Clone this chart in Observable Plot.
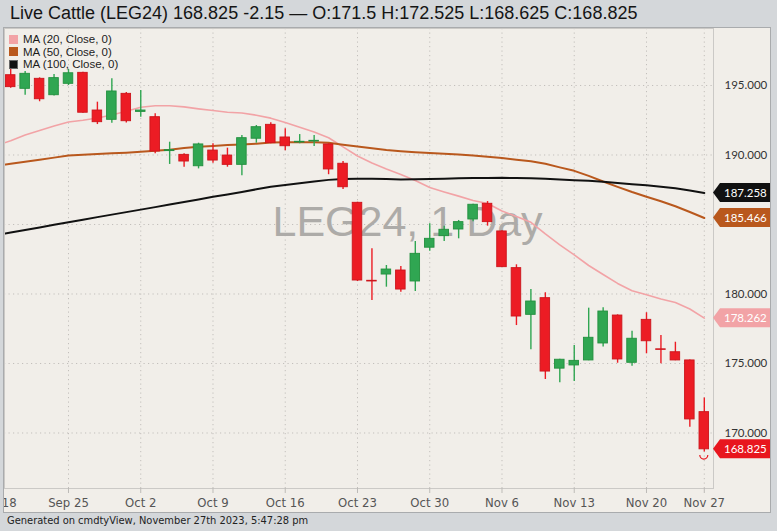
<!DOCTYPE html>
<html>
<head>
<meta charset="utf-8">
<script src="https://cdn.jsdelivr.net/npm/d3@7"></script>
<script src="https://cdn.jsdelivr.net/npm/@observablehq/plot@0.6"></script>
<style>
  html, body { margin: 0; padding: 0; }
  body { width: 777px; height: 531px; overflow: hidden; background: #d4d7da; position: relative;
         font-family: "Liberation Sans", Arial, sans-serif; }
  #title { position: absolute; left: 10px; top: 3px; font-size: 18px; line-height: 20px; color: #151515; white-space: nowrap; }
  #panel { position: absolute; left: 3px; top: 27px; width: 768px; height: 486px; box-sizing: border-box;
           border: 1px solid #a9abad; background: #f1eee9; overflow: hidden; }
  #legend { position: absolute; left: 5px; top: 5px; font-size: 11.5px; line-height: 12.5px; color: #1c1c1c; }
  #legend div { display: flex; align-items: center; height: 12.5px; white-space: nowrap; }
  #legend span.sw { display: inline-block; width: 9px; height: 9px; margin-right: 5px; box-sizing: border-box; }
  #footer { position: absolute; left: 7px; top: 515px; font-size: 11px; line-height: 12px; color: #222;
            font-family: "Liberation Sans Narrow", "Arial Narrow", "DejaVu Sans Condensed", sans-serif; }
</style>
</head>
<body>
<div id="title"></div>
<div id="panel"><div id="chart"></div><div id="legend"></div></div>
<div id="footer">Generated on cmdtyView, November 27th 2023, 5:47:28 pm</div>
<script>
// ---------- data ----------
const titleText = "Live Cattle (LEG24) 168.825 -2.15 \u2014 O:171.5 H:172.525 L:168.625 C:168.825";
const watermark = "LEG24, 1 Day";

const dates = ["2023-09-18","2023-09-19","2023-09-20","2023-09-21","2023-09-22",
  "2023-09-25","2023-09-26","2023-09-27","2023-09-28","2023-09-29",
  "2023-10-02","2023-10-03","2023-10-04","2023-10-05","2023-10-06",
  "2023-10-09","2023-10-10","2023-10-11","2023-10-12","2023-10-13",
  "2023-10-16","2023-10-17","2023-10-18","2023-10-19","2023-10-20",
  "2023-10-23","2023-10-24","2023-10-25","2023-10-26","2023-10-27",
  "2023-10-30","2023-10-31","2023-11-01","2023-11-02","2023-11-03",
  "2023-11-06","2023-11-07","2023-11-08","2023-11-09","2023-11-10",
  "2023-11-13","2023-11-14","2023-11-15","2023-11-16","2023-11-17",
  "2023-11-20","2023-11-21","2023-11-22","2023-11-24","2023-11-27"];

const open  = [null,195.74,194.76,195.48,194.30,195.12,195.91,193.20,192.53,194.40,193.10,192.72,190.28,190.01,189.19,190.32,189.96,189.29,191.17,192.17,191.26,190.90,190.97,190.76,189.37,186.56,180.95,181.40,181.69,180.90,183.33,184.16,184.64,185.36,186.49,184.50,181.86,178.50,179.70,174.63,174.86,175.22,176.44,178.45,175.05,178.14,176.02,175.81,175.22,171.5];
const high  = [null,196.30,196.00,195.55,195.79,196.15,195.95,193.80,195.48,194.50,194.64,192.96,190.92,190.09,190.85,190.81,190.49,191.40,192.12,192.32,191.88,191.47,191.40,190.80,189.53,186.60,183.25,182.05,181.98,183.78,185.05,184.88,185.29,186.45,186.65,184.55,182.10,180.32,180.09,175.30,176.29,178.98,179.01,178.50,177.32,178.65,177.01,176.53,175.25,172.525];
const low   = [null,194.80,194.30,193.83,194.25,195.00,193.00,192.19,192.29,192.30,192.72,190.09,189.32,189.12,189.00,189.41,189.12,188.50,190.85,190.80,190.30,190.81,190.61,188.58,187.52,180.90,179.53,180.49,180.13,180.18,183.08,183.78,183.97,185.20,184.88,181.90,177.73,175.99,173.85,173.61,173.71,175.20,176.18,175.02,174.81,175.70,174.98,175.20,170.42,168.625];
const close = [null,194.88,195.84,194.01,195.53,195.88,193.04,192.36,194.57,192.43,193.20,190.25,190.35,189.53,190.76,189.60,189.29,191.21,192.00,190.85,190.63,190.95,191.02,188.96,187.68,180.97,180.90,181.76,180.32,182.89,183.97,184.62,185.17,186.42,185.17,181.93,178.38,179.46,174.42,175.27,175.19,176.85,178.74,175.29,176.78,176.60,175.98,175.22,170.975,168.825];

const ma20  = [190.68,191.02,191.44,191.77,192.08,192.37,192.50,192.66,192.88,193.14,193.44,193.54,193.54,193.46,193.32,193.20,193.08,193.02,192.86,192.65,192.34,191.99,191.65,191.24,190.58,189.93,189.42,188.99,188.60,188.17,187.66,187.34,187.04,186.73,186.51,185.97,185.58,185.16,184.32,183.53,182.81,182.05,181.40,180.76,180.23,179.94,179.64,179.39,178.92,178.262];
const ma50  = [189.22,189.37,189.52,189.66,189.81,189.96,190.02,190.07,190.12,190.17,190.23,190.30,190.38,190.50,190.60,190.65,190.71,190.76,190.81,190.90,190.92,190.92,190.92,190.88,190.74,190.61,190.48,190.36,190.27,190.20,190.14,190.09,190.03,189.96,189.87,189.78,189.66,189.55,189.37,189.11,188.86,188.50,188.09,187.71,187.34,187.00,186.67,186.31,185.90,185.466];
const ma100 = [184.24,184.42,184.61,184.79,184.98,185.16,185.34,185.53,185.71,185.89,186.07,186.25,186.44,186.62,186.80,186.99,187.16,187.34,187.53,187.71,187.84,187.97,188.09,188.21,188.28,188.29,188.29,188.27,188.24,188.25,188.27,188.29,188.32,188.34,188.35,188.36,188.34,188.32,188.29,188.24,188.19,188.14,188.08,187.99,187.90,187.83,187.72,187.60,187.45,187.258];

const maNames  = ["MA (20, Close, 0)", "MA (50, Close, 0)", "MA (100, Close, 0)"];
const maColors = ["#f2a3a6", "#b9581d", "#111111"];
const priceTicks = [170, 175, 180, 185, 190, 195];
// the 185.000 label sits under the 185.466 price tag in the reference, so it is not printed
const priceLabels = [170, 175, 180, 190, 195];

// ---------- derived tables ----------
const parse = d3.utcParse("%Y-%m-%d");
const fmtDate = d3.utcFormat("%b %-d");
const candles = dates.map((d, k) => ({k, open: open[k], high: high[k], low: low[k], close: close[k]}))
  .filter(d => d.open != null);
const maSeries = [ma20, ma50, ma100];
const maRows = maSeries.flatMap((arr, s) => arr.map((v, k) => ({k, v, s})));
const weekTicks = dates.map((d, k) => ({k, day: parse(d).getUTCDay()})).filter(d => d.day === 1);
const last = candles[candles.length - 1];
const tags = [
  {value: ma100[ma100.length - 1], fill: maColors[2]},
  {value: ma50[ma50.length - 1], fill: maColors[1]},
  {value: ma20[ma20.length - 1], fill: maColors[0]},
  {value: last.close, fill: "#e8161e"}
];

const RED = "#ec1c24", RED_S = "#cc151c", GREEN = "#30a652", GREEN_S = "#23903f";
const colorOf = d => d.close >= d.open ? GREEN : RED;
const strokeOf = d => d.close >= d.open ? GREEN_S : RED_S;

document.getElementById("title").textContent = titleText;

// legend
const legend = document.getElementById("legend");
maNames.forEach((n, i) => {
  const row = document.createElement("div");
  const sw = document.createElement("span");
  sw.className = "sw";
  sw.style.background = maColors[i];
  if (i === 2) sw.style.border = "1px solid #666";
  row.appendChild(sw);
  row.appendChild(document.createTextNode(n));
  legend.appendChild(row);
});

// price tags on the right axis, positioned with the plot's y scale
function tagMark(index, scales, values, dimensions) {
  const g = d3.create("svg:g");
  const x0 = dimensions.width - dimensions.marginRight;
  const x2 = dimensions.width;
  const h = 9.5;
  for (const t of tags) {
    const y = scales.y(t.value);
    g.append("path")
      .attr("d", `M${x0},${y} L${x0 + 7},${y - h} L${x2},${y - h} L${x2},${y + h} L${x0 + 7},${y + h} Z`)
      .attr("fill", t.fill);
    g.append("text")
      .attr("x", x0 + 11).attr("y", y).attr("dy", "0.36em")
      .attr("text-anchor", "start")
      .attr("fill", "#fff")
      .attr("font-family", "Lato, 'Open Sans', sans-serif")
      .attr("font-size", 11.5)
      .text(d3.format(".3f")(t.value));
  }
  // marker under the last bar
  const lx = scales.x(last.k), ly = scales.y(last.low) + 3.5;
  g.append("path")
    .attr("d", `M${lx - 4},${ly} A4,4 0 0 0 ${lx + 4},${ly}`)
    .attr("fill", "none").attr("stroke", "#e8161e").attr("stroke-width", 1.2);
  return g.node();
}

const W = 766, H = 484;
const chart = Plot.plot({
  width: W, height: H,
  marginLeft: 0, marginRight: 57, marginTop: 0, marginBottom: 24,
  style: {background: "transparent", overflow: "hidden", fontFamily: "Lato, sans-serif"},
  x: {type: "linear", domain: [0.571, 49.637], label: null},
  y: {domain: [166.007, 199.10], label: null},
  marks: [
    Plot.ruleX(weekTicks, {x: "k", stroke: "#c2bfbb", strokeDasharray: "1.2,3.3", strokeWidth: 1}),
    Plot.ruleY(priceTicks, {stroke: "#c2bfbb", strokeDasharray: "1.2,3.3", strokeWidth: 1}),
    Plot.text([watermark], {frameAnchor: "top-left", dx: 268, dy: 194, text: d => d, textAnchor: "start",
      lineAnchor: "middle", fontSize: 43, fill: "#adaba8", fontFamily: "'Liberation Sans', Arial, sans-serif"}),
    Plot.line(maRows, {x: "k", y: "v", z: "s", stroke: d => maColors[d.s],
      strokeWidth: d => d.s === 0 ? 1.6 : 2, clip: true}),
    Plot.ruleX(candles, {x: "k", y1: "low", y2: "high", stroke: colorOf, strokeWidth: 1.4, clip: true}),
    Plot.rect(candles, {x1: d => d.k - 0.33, x2: d => d.k + 0.33, y1: "open", y2: "close",
      fill: colorOf, stroke: strokeOf, strokeWidth: 0.9, clip: true}),
    Plot.frame({stroke: "#cbc9c6"}),
    Plot.axisX(weekTicks.map(d => d.k), {tickFormat: k => fmtDate(parse(dates[k])), tickSize: 5, tickPadding: 4,
      label: null, stroke: "#bdbbb8", fill: "#555", fontSize: 13,
      fontFamily: "'Liberation Sans Narrow', 'Arial Narrow', 'DejaVu Sans Condensed', sans-serif"}),
    Plot.axisY(priceLabels, {anchor: "right", tickFormat: d3.format(".3f"), tickSize: 0, tickPadding: 11,
      label: null, fill: "#333", fontSize: 11.5, fontFamily: "Lato, sans-serif"}),
    tagMark
  ]
});
document.getElementById("chart").appendChild(chart);
</script>
</body>
</html>
